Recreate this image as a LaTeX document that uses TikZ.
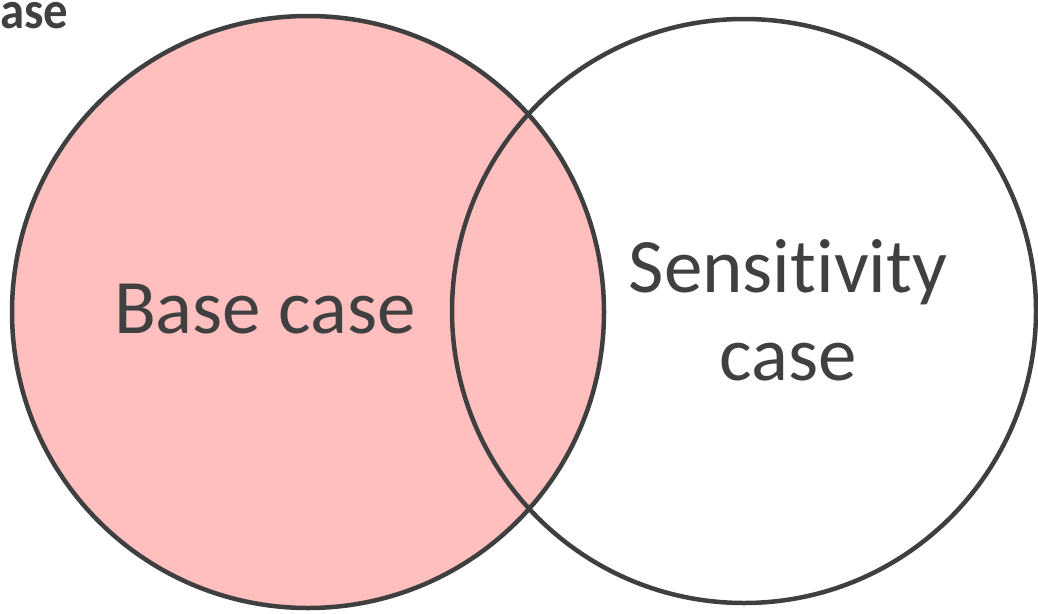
\documentclass[tikz,border=0pt]{standalone}
\usepackage{fontspec}
\setmainfont[Ligatures=NoCommon]{Carlito}
\definecolor{edge}{HTML}{3F3F3F}
\definecolor{txt}{HTML}{404040}
\definecolor{pinkfill}{HTML}{FFBFBF}
\tikzset{
  setcircle/.style={draw=edge, line width=4.5pt},
  bigtext/.style={text=txt, font=\fontsize{77}{88}\selectfont, inner sep=0pt, anchor=base},
}
\begin{document}
\begin{tikzpicture}[x=1pt,y=-1pt]
\useasboundingbox (0,0) rectangle (1038,613);
% left filled circle
\fill[pinkfill] (308,312) circle[radius=296];
\draw[setcircle] (744,311) circle[radius=292];
\draw[setcircle] (308,312) circle[radius=296];
\node[bigtext] (base) at (265,333) {Base case};
\node[bigtext] (sens1) at (788,292) {Sensitivity};
\node[bigtext] (sens2) at (788,380) {case};
\node[text=txt, font=\bfseries\fontsize{53}{56}\selectfont, inner sep=0pt, anchor=base west, xscale=0.92] (cut) at (0,28) {ase};
\end{tikzpicture}
\end{document}
